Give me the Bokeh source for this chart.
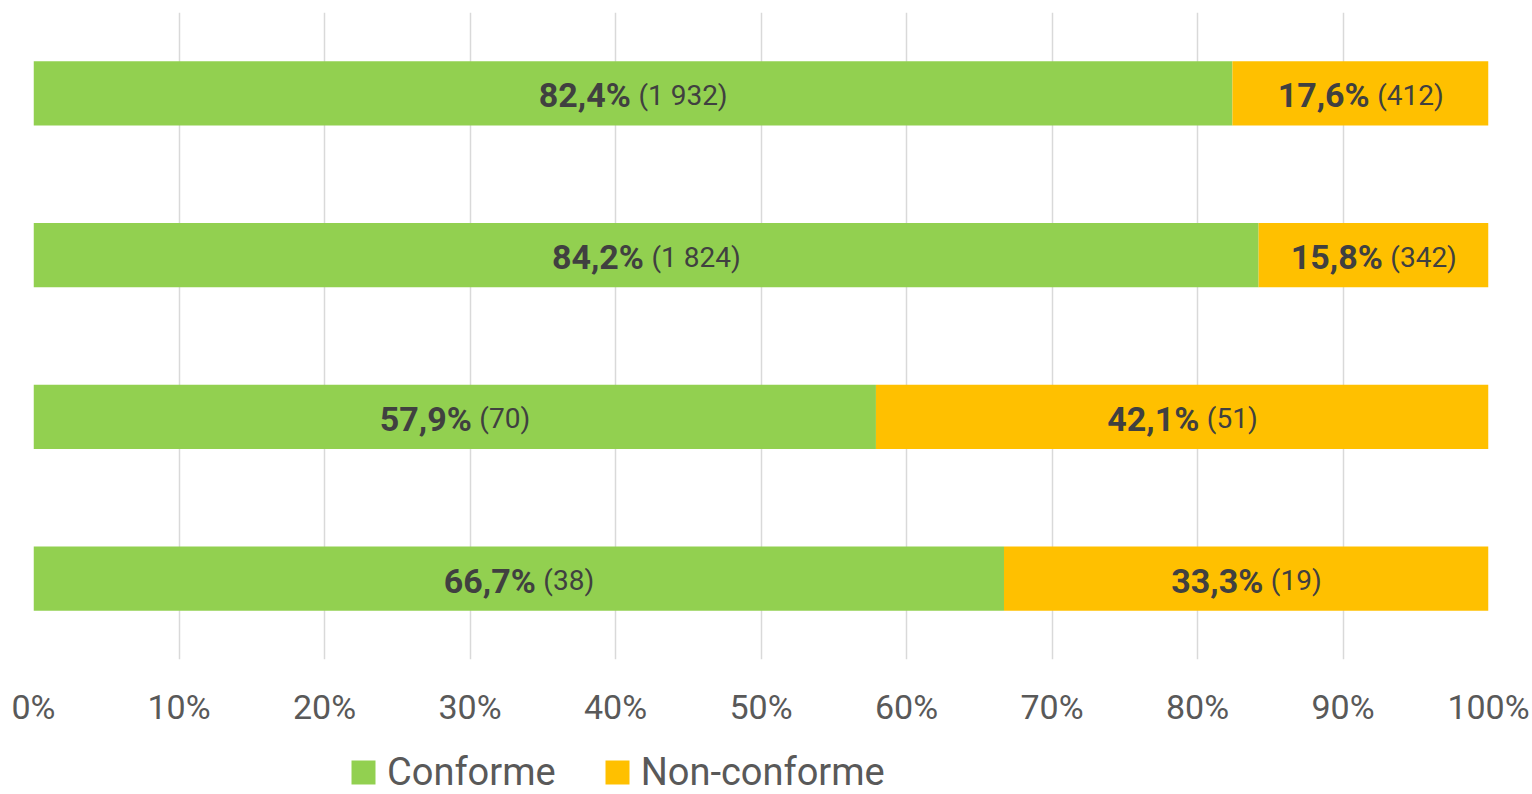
from bokeh.plotting import figure
from bokeh.layouts import column
from bokeh.models import (ColumnDataSource, Range1d, FactorRange, FixedTicker,
                          PrintfTickFormatter, Legend, LegendItem)
from bokeh.core.properties import value
from bokeh.embed import file_html
from bokeh.resources import INLINE

# ---- data ----
rows = ["r1", "r2", "r3", "r4"]
conforme_pct = [82.4, 84.2, 57.9, 66.7]
nonconforme_pct = [17.6, 15.8, 42.1, 33.3]
conforme_n = ["1 932", "1 824", "70", "38"]
nonconforme_n = ["412", "342", "51", "19"]
series_names = ["Conforme", "Non-conforme"]
colors = ["#92D050", "#FFC000"]
x_ticks = [0, 10, 20, 30, 40, 50, 60, 70, 80, 90, 100]

FONT = "Roboto"
BOLD_SIZE = 34
NORM_SIZE = 28
GAP = 10

# approximate Roboto advance widths (em)
REG_W = {"(": 0.334, ")": 0.340, " ": 0.248, ",": 0.192, "%": 0.715}
BOLD_W = {",": 0.215, "%": 0.735}


def width(s, table, size):
    return sum(table.get(ch, 0.5615) for ch in s) * size


def fmt_pct(v):
    return ("%.1f" % v).replace(".", ",") + "%"


W = 1532
H_MAIN = 746
H_LEG = 48
LEFT = 33
FRAME_W = 1455
TOP = 12
FRAME_H = 647

p = figure(width=W, height=H_MAIN, output_backend="svg", toolbar_location=None,
           x_range=Range1d(0, 100), y_range=FactorRange(*rows[::-1]),
           min_border_left=LEFT, min_border_right=W - LEFT - FRAME_W,
           min_border_top=TOP, min_border_bottom=H_MAIN - TOP - FRAME_H)

src = ColumnDataSource(dict(row=rows, c=conforme_pct, n=nonconforme_pct))
p.hbar_stack(["c", "n"], y="row", height=0.396, color=colors,
             line_color=None, source=src)

# labels
lx, ly, bold_txt, bold_off = [], [], [], []
nx, ny, norm_txt, norm_off = [], [], [], []
for i, r in enumerate(rows):
    segs = [(conforme_pct[i] / 2, conforme_pct[i], conforme_n[i]),
            (conforme_pct[i] + nonconforme_pct[i] / 2, nonconforme_pct[i], nonconforme_n[i])]
    for cx, pct, cnt in segs:
        b = fmt_pct(pct)
        t = "(" + cnt + ")"
        wb = width(b, BOLD_W, BOLD_SIZE)
        wn = width(t, REG_W, NORM_SIZE)
        total = wb + GAP + wn
        lx.append(cx); ly.append(r); bold_txt.append(b); bold_off.append(-total / 2)
        nx.append(cx); ny.append(r); norm_txt.append(t); norm_off.append(-total / 2 + wb + GAP)

p.text(x=lx, y=ly, text=bold_txt, x_offset=bold_off, y_offset=2,
       text_font=value(FONT), text_font_style="bold", text_font_size="%dpx" % BOLD_SIZE,
       text_color="#404040", text_align="left", text_baseline="middle")
p.text(x=nx, y=ny, text=norm_txt, x_offset=norm_off, y_offset=2,
       text_font=value(FONT), text_font_size="%dpx" % NORM_SIZE,
       text_color="#404040", text_align="left", text_baseline="middle")

# axes & grid
p.yaxis.visible = False
p.ygrid.grid_line_color = None
p.xaxis.ticker = FixedTicker(ticks=x_ticks)
p.xgrid.ticker = FixedTicker(ticks=x_ticks)
p.xaxis.formatter = PrintfTickFormatter(format="%d%%")
p.xaxis.axis_line_color = None
p.xaxis.major_tick_line_color = None
p.xaxis.minor_tick_line_color = None
p.xaxis.major_label_standoff = 21
p.xaxis.major_label_text_font = FONT
p.xaxis.major_label_text_font_size = "34px"
p.xaxis.major_label_text_color = "#595959"
p.xgrid.grid_line_color = "#d9d9d9"
p.xgrid.grid_line_width = 1.5
p.outline_line_color = None

# legend strip (separate small figure, legend drawn inside its frame)
pl = figure(width=W, height=H_LEG, output_backend="svg", toolbar_location=None,
            x_range=Range1d(0, 100), y_range=FactorRange(*rows[::-1]),
            min_border_left=0, min_border_right=0, min_border_top=0,
            min_border_bottom=0)
pl.axis.visible = False
pl.grid.visible = False
pl.outline_line_color = None
leg_r = pl.hbar_stack(["c", "n"], y="row", height=0.396, color=colors,
                      line_color=None, source=src)
for r in leg_r:
    r.visible = False

legend = Legend(items=[LegendItem(label=series_names[k], renderers=[leg_r[k]])
                       for k in range(2)],
                orientation="horizontal", location=(315, 0),
                label_text_font=FONT, label_text_font_size="38px",
                label_text_color="#595959", label_text_line_height=0.8,
                glyph_width=30, glyph_height=30,
                label_standoff=9, spacing=46, padding=0, margin=0,
                inactive_fill_alpha=0,
                border_line_color=None, background_fill_alpha=0)
pl.add_layout(legend, "center")

layout = column(p, pl, spacing=0)
open("out.html", "w").write(file_html(layout, INLINE))
